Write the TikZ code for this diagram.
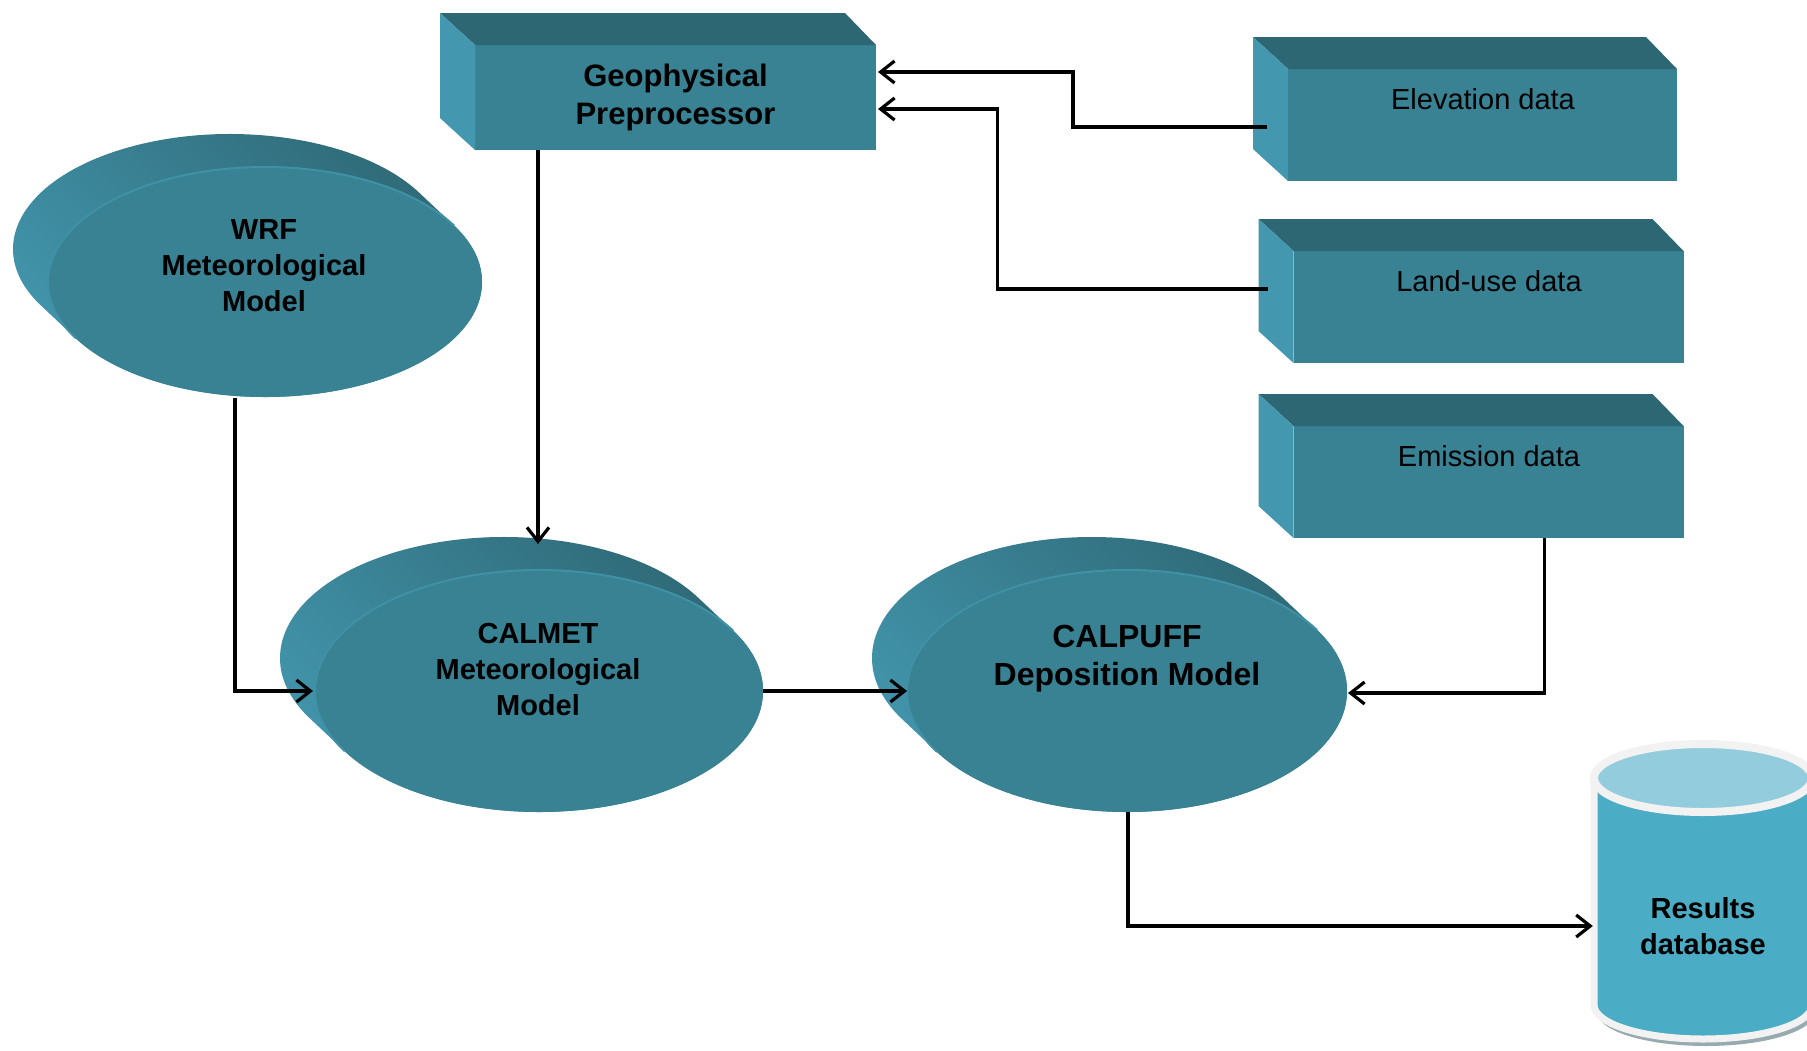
\documentclass[tikz,border=0pt]{standalone}
\usepackage{fontspec}
\setmainfont{Liberation Sans}
\usetikzlibrary{arrows.meta,calc,shapes.geometric}
\definecolor{tfront}{RGB}{56,130,148}
\definecolor{ttop}{RGB}{46,103,116}
\definecolor{tside}{RGB}{67,151,174}
\definecolor{cylbody}{RGB}{75,172,198}
\definecolor{cyltop}{RGB}{147,205,221}
\definecolor{cylrim}{RGB}{242,242,242}
\definecolor{cylshadow}{RGB}{150,170,176}
\newcommand{\discback}[4]{%
  \pgfmathsetmacro{\tang}{atan(-35*#4/(33*#3))}%
  \pgfmathsetmacro{\pxa}{#1+#3*cos(\tang)}%
  \pgfmathsetmacro{\pya}{#2+#4*sin(\tang)}%
  \shade[top color=ttop, bottom color=tside, shading angle=-45]
    (\pxa,\pya) -- ++(-35,-33)
    arc[start angle=\tang, end angle=\tang-180, x radius=#3, y radius=#4]
    -- ++(35,33)
    arc[start angle=\tang+180, end angle=\tang, x radius=#3, y radius=#4] -- cycle;
}
\newcommand{\discrim}[4]{%
  \pgfmathsetmacro{\tang}{atan(-35*#4/(33*#3))+180}%
  \pgfmathsetmacro{\pxa}{#1+#3*cos(\tang)}%
  \pgfmathsetmacro{\pya}{#2+#4*sin(\tang)}%
  \draw[tside!70!tfront, line width=2pt]
    (\pxa,\pya) arc[start angle=\tang, end angle=\tang+180, x radius=#3, y radius=#4];
}
\newcommand{\boxsides}[1]{%
  \fill[ttop] (#1.north west) -- ++(-35,-32) -- ($(#1.north east)+(-31,-32)$) -- (#1.north east) -- cycle;
  \fill[tside] (#1.north west) -- ++(-35,-32) -- ($(#1.south west)+(-35,-32)$) -- (#1.south west) -- cycle;
}
\tikzset{
  boxfront/.style={rectangle, fill=tfront, inner sep=0pt, outer sep=0pt},
  discfront/.style={ellipse, fill=tfront, inner sep=0pt, outer sep=0pt},
  arr/.style={draw=black, line width=3.2pt, -{Straight Barb[length=14pt,width=22pt]}},
  lblreg/.style={font=\fontsize{29}{35}\selectfont, text=black, inner sep=0pt},
  lblbold/.style={font=\bfseries\fontsize{29}{36}\selectfont, align=center, text=black, inner sep=0pt}
}
\begin{document}
\begin{tikzpicture}[x=1pt,y=-1pt]
\useasboundingbox (0,0) rectangle (1807,1050);
\clip (0,0) rectangle (1807,1050);

% WRF disc
\discback{265}{282}{217}{115}
\node[discfront, minimum width=434pt, minimum height=230pt] (wrf) at (265,282) {};
\discrim{265}{282}{217}{115}
\node[lblbold] (wrft) at (264,266) {WRF\\Meteorological\\Model};

% CALMET disc
\discback{539}{691}{224}{121}
\node[discfront, minimum width=448pt, minimum height=242pt] (calmet) at (539,691) {};
\discrim{539}{691}{224}{121}
\node[lblbold] (calmett) at (538,670) {CALMET\\Meteorological\\Model};

% CALPUFF disc
\discback{1127}{691}{220}{121}
\node[discfront, minimum width=440pt, minimum height=242pt] (calpuff) at (1127,691) {};
\discrim{1127}{691}{220}{121}
\node[lblbold, font=\bfseries\fontsize{32}{38}\selectfont] (calpufft) at (1127,659) {CALPUFF\\Deposition Model};

% Geophysical preprocessor box
\node[boxfront, minimum width=401pt, minimum height=105pt, align=center,
      font=\bfseries\fontsize{31}{38}\selectfont] (geo) at (675.5,97.5) {Geophysical\\Preprocessor};
\boxsides{geo}

% data boxes
\node[boxfront, minimum width=389pt, minimum height=112pt] (elev) at (1482.5,125) {};
\boxsides{elev}
\node[lblreg] (elevt) at (1483,99) {Elevation data};

\node[boxfront, minimum width=390pt, minimum height=112pt] (land) at (1488.5,307) {};
\boxsides{land}
\node[lblreg] (landt) at (1489,281) {Land-use data};

\node[boxfront, minimum width=390pt, minimum height=112pt] (emis) at (1488.5,482) {};
\boxsides{emis}
\node[lblreg] (emist) at (1489,456) {Emission data};

% Results database cylinder
\fill[cylshadow] (1597,785) -- (1597,1012) arc[start angle=180, end angle=0, x radius=109, y radius=34] -- (1815,785) -- cycle;
\path[fill=cylbody, draw=cylrim, line width=7pt] (1594,778) -- (1594,1005)
  arc[start angle=180, end angle=0, x radius=109, y radius=34] -- (1812,778) -- cycle;
\path[fill=cyltop, draw=cylrim, line width=8pt] (1703,778) ellipse[x radius=109, y radius=34];
\node[lblbold, minimum width=218pt] (res) at (1703,926) {Results\\database};

% connectors
\draw[arr] ($(elev.west)+(-21,2)$) -- ++(-194,0) |- ($(geo.east)+(2,-25.5)$);
\draw[arr] ($(land.west)+(-26,-18)$) -- ++(-270,0) |- ($(geo.east)+(2,11.5)$);
\draw[arr] ($(geo.south west)+(63,0)$) -- ($(calmet.north)+(-1,-26)$);
\draw[arr] ($(wrf.south)+(-30,1)$) |- ($(calmet.west)+(-2,0)$);
\draw[arr] (calmet.east) -- (calpuff.west);
\draw[arr] ($(emis.south)+(56,0)$) |- ($(calpuff.east)+(1,2)$);
\draw[arr] ($(calpuff.south)+(1,0)$) |- ($(res.west)+(-1,0)$);
\end{tikzpicture}
\end{document}
